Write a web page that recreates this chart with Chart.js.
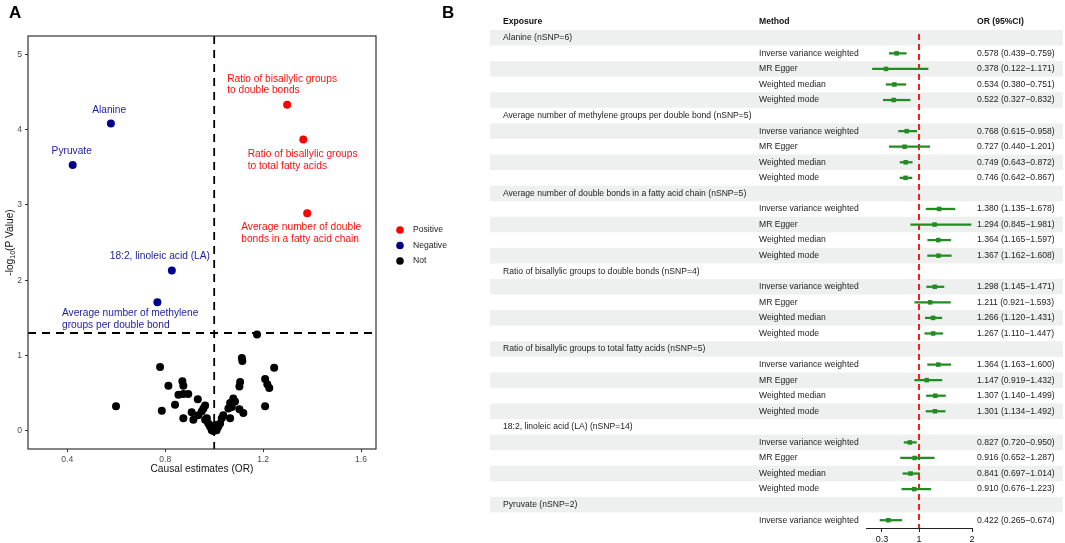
<!DOCTYPE html>
<html>
<head>
<meta charset="utf-8">
<script src="https://cdn.jsdelivr.net/npm/chart.js@4.4.1/dist/chart.umd.min.js"></script>
<style>
  body { margin: 0; background: #fff; }
  #wrap { position: relative; width: 1065px; height: 543px; }
  #volcano { position: absolute; left: 0; top: 0; }
  #forest { position: absolute; left: 420px; top: 0; }
</style>
</head>
<body>
<div id="wrap">
  <canvas id="volcano" width="480" height="543"></canvas>
  <canvas id="forest" width="645" height="543"></canvas>
</div>
<script>
// panel A - volcano plot
var posNames = ['Ratio of bisallylic groups to double bonds', 'Ratio of bisallylic groups to total fatty acids', 'Average number of double bonds in a fatty acid chain'];
var posOR = [1.298, 1.364, 1.380];
var posLogP = [4.33, 3.87, 2.89];

var negNames = ['Alanine', 'Pyruvate', '18:2, linoleic acid (LA)', 'Average number of methylene groups per double bond'];
var negOR = [0.578, 0.422, 0.827, 0.768];
var negLogP = [4.08, 3.53, 2.13, 1.71];

var notOR = [1.175, 1.113, 1.115, 1.245, 0.779, 0.813, 0.870, 0.874, 1.106, 1.103, 1.208, 1.217, 1.225,
  0.854, 0.874, 0.894, 0.840, 0.786, 0.933, 0.963, 0.956, 1.078, 1.065, 1.072, 1.058, 1.119, 1.208,
  0.874, 0.908, 0.915, 0.935, 0.949, 0.970, 0.976, 0.983, 0.990, 0.997, 1.010, 1.017, 1.024, 1.031,
  1.037, 1.065, 0.963, 1.004, 0.599, 1.085, 1.103];
var notLogP = [1.28, 0.97, 0.93, 0.84, 0.85, 0.60, 0.66, 0.60, 0.65, 0.59, 0.69, 0.62, 0.57,
  0.48, 0.49, 0.49, 0.35, 0.27, 0.42, 0.34, 0.30, 0.43, 0.37, 0.32, 0.30, 0.24, 0.33,
  0.17, 0.25, 0.15, 0.21, 0.26, 0.17, 0.10, 0.06, 0.01, 0.0, 0.01, 0.06, 0.10, 0.17,
  0.21, 0.17, 0.15, 0.08, 0.33, 0.39, 0.29];

var xTicksA = [0.4, 0.8, 1.2, 1.6];
var yTicksA = [0, 1, 2, 3, 4, 5];

// panel B - forest plot
var exposures = ['Alanine (nSNP=6)',
  'Average number of methylene groups per double bond (nSNP=5)',
  'Average number of double bonds in a fatty acid chain (nSNP=5)',
  'Ratio of bisallylic groups to double bonds (nSNP=4)',
  'Ratio of bisallylic groups to total fatty acids (nSNP=5)',
  '18:2, linoleic acid (LA) (nSNP=14)',
  'Pyruvate (nSNP=2)'];
var methods = ['Inverse variance weighted', 'MR Egger', 'Weighted median', 'Weighted mode'];
var orEst = [[0.578, 0.378, 0.534, 0.522], [0.768, 0.727, 0.749, 0.746], [1.380, 1.294, 1.364, 1.367],
  [1.298, 1.211, 1.266, 1.267], [1.364, 1.147, 1.307, 1.301], [0.827, 0.916, 0.841, 0.910], [0.422]];
var orLow = [[0.439, 0.122, 0.380, 0.327], [0.615, 0.440, 0.643, 0.642], [1.135, 0.845, 1.165, 1.162],
  [1.145, 0.921, 1.120, 1.110], [1.163, 0.919, 1.140, 1.134], [0.720, 0.652, 0.697, 0.676], [0.265]];
var orHigh = [[0.759, 1.171, 0.751, 0.832], [0.958, 1.201, 0.872, 0.867], [1.678, 1.981, 1.597, 1.608],
  [1.471, 1.593, 1.431, 1.447], [1.600, 1.432, 1.499, 1.492], [0.950, 1.287, 1.014, 1.223], [0.674]];
var xTicksB = [0.3, 1, 2];

var FONT = '"Liberation Sans", Arial, sans-serif';
Chart.defaults.font.family = FONT;

// ---------- volcano ----------
// label placement, offsets in px from the point
var labelPos = {
  'Ratio of bisallylic groups to double bonds': {lines: ['Ratio of bisallylic groups', 'to double bonds'], dx: -60, dy: -26, align: 'left'},
  'Ratio of bisallylic groups to total fatty acids': {lines: ['Ratio of bisallylic groups', 'to total fatty acids'], dx: -55.6, dy: 14.7, align: 'left'},
  'Average number of double bonds in a fatty acid chain': {lines: ['Average number of double', 'bonds in a fatty acid chain'], dx: -66, dy: 14.3, align: 'left'},
  'Alanine': {lines: ['Alanine'], dx: -1.7, dy: -13.3, align: 'center'},
  'Pyruvate': {lines: ['Pyruvate'], dx: -1, dy: -13.6, align: 'center'},
  '18:2, linoleic acid (LA)': {lines: ['18:2, linoleic acid (LA)'], dx: -12, dy: -14.6, align: 'center'},
  'Average number of methylene groups per double bond': {lines: ['Average number of methylene', 'groups per double bond'], dx: -95.4, dy: 11.3, align: 'left'}
};

const volcanoDecor = {
  id: 'volcanoDecor',
  beforeDatasetsDraw(chart) {
    const {ctx, chartArea: a, scales: {x, y}} = chart;
    ctx.save();
    ctx.strokeStyle = '#000';
    ctx.lineWidth = 1.8;
    ctx.setLineDash([8, 6]);
    const vx = x.getPixelForValue(1);
    ctx.beginPath(); ctx.moveTo(vx, a.top); ctx.lineTo(vx, a.bottom); ctx.stroke();
    const hy = y.getPixelForValue(-Math.log10(0.05));
    ctx.beginPath(); ctx.moveTo(a.left, hy); ctx.lineTo(a.right, hy); ctx.stroke();
    ctx.restore();
  },
  afterDraw(chart) {
    const {ctx, chartArea: a, scales: {x, y}} = chart;
    ctx.save();
    // frame
    ctx.strokeStyle = '#333';
    ctx.lineWidth = 1.2;
    ctx.strokeRect(a.left, a.top, a.right - a.left, a.bottom - a.top);

    // point labels
    ctx.font = '10.2px ' + FONT;
    ctx.textBaseline = 'middle';
    chart.data.datasets.forEach(function(ds) {
      if (!ds.names) return;
      ctx.fillStyle = ds.labelColor;
      ds.data.forEach(function(p, i) {
        const lp = labelPos[ds.names[i]];
        const px = x.getPixelForValue(p.x), py = y.getPixelForValue(p.y);
        ctx.textAlign = lp.align;
        lp.lines.forEach(function(t, k) {
          ctx.fillText(t, px + lp.dx, py + lp.dy + k * 11.7);
        });
      });
    });

    // legend
    const leg = [['Positive', '#ff0000'], ['Negative', '#00008b'], ['Not', '#000']];
    ctx.font = '8.6px ' + FONT;
    ctx.textAlign = 'left';
    leg.forEach(function(l, i) {
      const ly = 230 + i * 15.5;
      ctx.fillStyle = l[1];
      ctx.beginPath(); ctx.arc(400, ly, 3.8, 0, Math.PI * 2); ctx.fill();
      ctx.fillStyle = '#222';
      ctx.fillText(l[0], 413, ly);
    });

    // axis titles
    ctx.fillStyle = '#111';
    ctx.font = '10.2px ' + FONT;
    ctx.textAlign = 'center';
    ctx.fillText('Causal estimates (OR)', (a.left + a.right) / 2, 469.5);

    ctx.save();
    ctx.translate(10, (a.top + a.bottom) / 2);
    ctx.rotate(-Math.PI / 2);
    ctx.textAlign = 'left';
    const p1 = '-log', p2 = '10', p3 = '(P Value)';
    ctx.font = '10.2px ' + FONT;
    const w1 = ctx.measureText(p1).width, w3 = ctx.measureText(p3).width;
    ctx.font = '7px ' + FONT;
    const w2 = ctx.measureText(p2).width;
    let sx = -(w1 + w2 + w3) / 2;
    ctx.font = '10.2px ' + FONT;
    ctx.fillText(p1, sx, 0);
    ctx.font = '7px ' + FONT;
    ctx.fillText(p2, sx + w1, 3);
    ctx.font = '10.2px ' + FONT;
    ctx.fillText(p3, sx + w1 + w2, 0);
    ctx.restore();

    // panel letter
    ctx.fillStyle = '#000';
    ctx.font = 'bold 17px ' + FONT;
    ctx.textAlign = 'left';
    ctx.fillText('A', 9, 13);
    ctx.restore();
  }
};

new Chart(document.getElementById('volcano'), {
  type: 'scatter',
  data: {
    datasets: [
      {label: 'Not', data: notOR.map(function(v, i) { return {x: v, y: notLogP[i]}; }),
        backgroundColor: '#000', pointRadius: 4, borderWidth: 0},
      {label: 'Negative', names: negNames, labelColor: '#1c1c9c',
        data: negOR.map(function(v, i) { return {x: v, y: negLogP[i]}; }),
        backgroundColor: '#00008b', pointRadius: 4, borderWidth: 0},
      {label: 'Positive', names: posNames, labelColor: '#ff1010',
        data: posOR.map(function(v, i) { return {x: v, y: posLogP[i]}; }),
        backgroundColor: '#ff0000', pointRadius: 4, borderWidth: 0}
    ]
  },
  options: {
    responsive: false,
    animation: false,
    layout: {padding: {left: 0, top: 36, right: 104, bottom: 74}},
    plugins: {legend: {display: false}, tooltip: {enabled: false}},
    scales: {
      x: {
        type: 'linear', min: 0.2394, max: 1.661,
        afterBuildTicks: function(s) { s.ticks = xTicksA.map(function(v) { return {value: v}; }); },
        afterFit: function(s) { s.height = 20; },
        ticks: {callback: function(v) { return v.toFixed(1); }, color: '#4d4d4d', font: {size: 8.6}, padding: 2},
        grid: {drawOnChartArea: false, tickLength: 3, color: '#333'},
        border: {display: false}
      },
      y: {
        type: 'linear', min: -0.239, max: 5.243,
        afterBuildTicks: function(s) { s.ticks = yTicksA.map(function(v) { return {value: v}; }); },
        afterFit: function(s) { s.width = 28; },
        ticks: {callback: function(v) { return String(v); }, color: '#4d4d4d', font: {size: 8.6}, padding: 3},
        grid: {drawOnChartArea: false, tickLength: 3, color: '#333'},
        border: {display: false}
      }
    }
  },
  plugins: [volcanoDecor]
});

// ---------- forest ----------
var rows = [];
exposures.forEach(function(e, i) {
  rows.push({label: e, group: true});
  orEst[i].forEach(function(v, j) {
    rows.push({label: methods[j], or: v, lo: orLow[i][j], hi: orHigh[i][j]});
  });
});
var rowIds = rows.map(function(r, i) { return 'r' + i; });

function fmt(v) { return v.toFixed(3); }

const forestTable = {
  id: 'forestTable',
  beforeDatasetsDraw(chart) {
    const {ctx, chartArea: a, scales: {x, y}} = chart;
    const h = y.getPixelForValue(1) - y.getPixelForValue(0);
    ctx.save();
    ctx.fillStyle = '#eef0f0';
    rows.forEach(function(r, i) {
      if (i % 2 === 0) ctx.fillRect(70, y.getPixelForValue(i) - h / 2, 573, h);
    });
    ctx.strokeStyle = '#ff1a1a';
    ctx.lineWidth = 2;
    ctx.setLineDash([6, 4]);
    const px = x.getPixelForValue(1);
    ctx.beginPath(); ctx.moveTo(px, a.top + 4); ctx.lineTo(px, a.bottom); ctx.stroke();
    ctx.restore();
  },
  afterDraw(chart) {
    const {ctx, scales: {y}} = chart;
    ctx.save();
    ctx.textBaseline = 'middle';
    ctx.textAlign = 'left';
    ctx.fillStyle = '#111';
    ctx.font = 'bold 8.6px ' + FONT;
    ctx.fillText('Exposure', 83, 22);
    ctx.fillText('Method', 339, 22);
    ctx.fillText('OR (95%CI)', 557, 22);
    ctx.font = '8.6px ' + FONT;
    ctx.fillStyle = '#222';
    rows.forEach(function(r, i) {
      const py = y.getPixelForValue(i);
      if (r.group) {
        ctx.fillText(r.label, 83, py);
      } else {
        ctx.fillText(r.label, 339, py);
        ctx.fillText(fmt(r.or) + ' (' + fmt(r.lo) + '\u2212' + fmt(r.hi) + ')', 557, py);
      }
    });
    ctx.fillStyle = '#000';
    ctx.font = 'bold 17px ' + FONT;
    ctx.fillText('B', 22, 13);
    ctx.restore();
  }
};

new Chart(document.getElementById('forest'), {
  type: 'bar',
  data: {
    labels: rowIds,
    datasets: [
      {type: 'bar', data: rows.map(function(r) { return r.group ? null : [r.lo, r.hi]; }),
        backgroundColor: '#228b22', barThickness: 1.6, borderWidth: 0},
      {type: 'scatter',
        data: rows.map(function(r, i) { return r.group ? null : {x: r.or, y: rowIds[i]}; }).filter(Boolean),
        backgroundColor: '#228b22', pointStyle: 'rect', pointRadius: 3.2, borderWidth: 0}
    ]
  },
  options: {
    responsive: false,
    animation: false,
    indexAxis: 'y',
    layout: {padding: {left: 446, top: 30, right: 93, bottom: 0}},
    plugins: {legend: {display: false}, tooltip: {enabled: false}},
    scales: {
      x: {
        type: 'linear', min: 0, max: 2,
        afterBuildTicks: function(s) { s.ticks = xTicksB.map(function(v) { return {value: v}; }); },
        afterFit: function(s) { s.height = 15; },
        ticks: {callback: function(v) { return String(v); }, color: '#111', font: {size: 9}, padding: 2},
        grid: {drawOnChartArea: false, tickLength: 4, color: '#222'},
        border: {display: true, color: '#222', width: 1}
      },
      y: {type: 'category', display: false, offset: true}
    }
  },
  plugins: [forestTable]
});
</script>
</body>
</html>
